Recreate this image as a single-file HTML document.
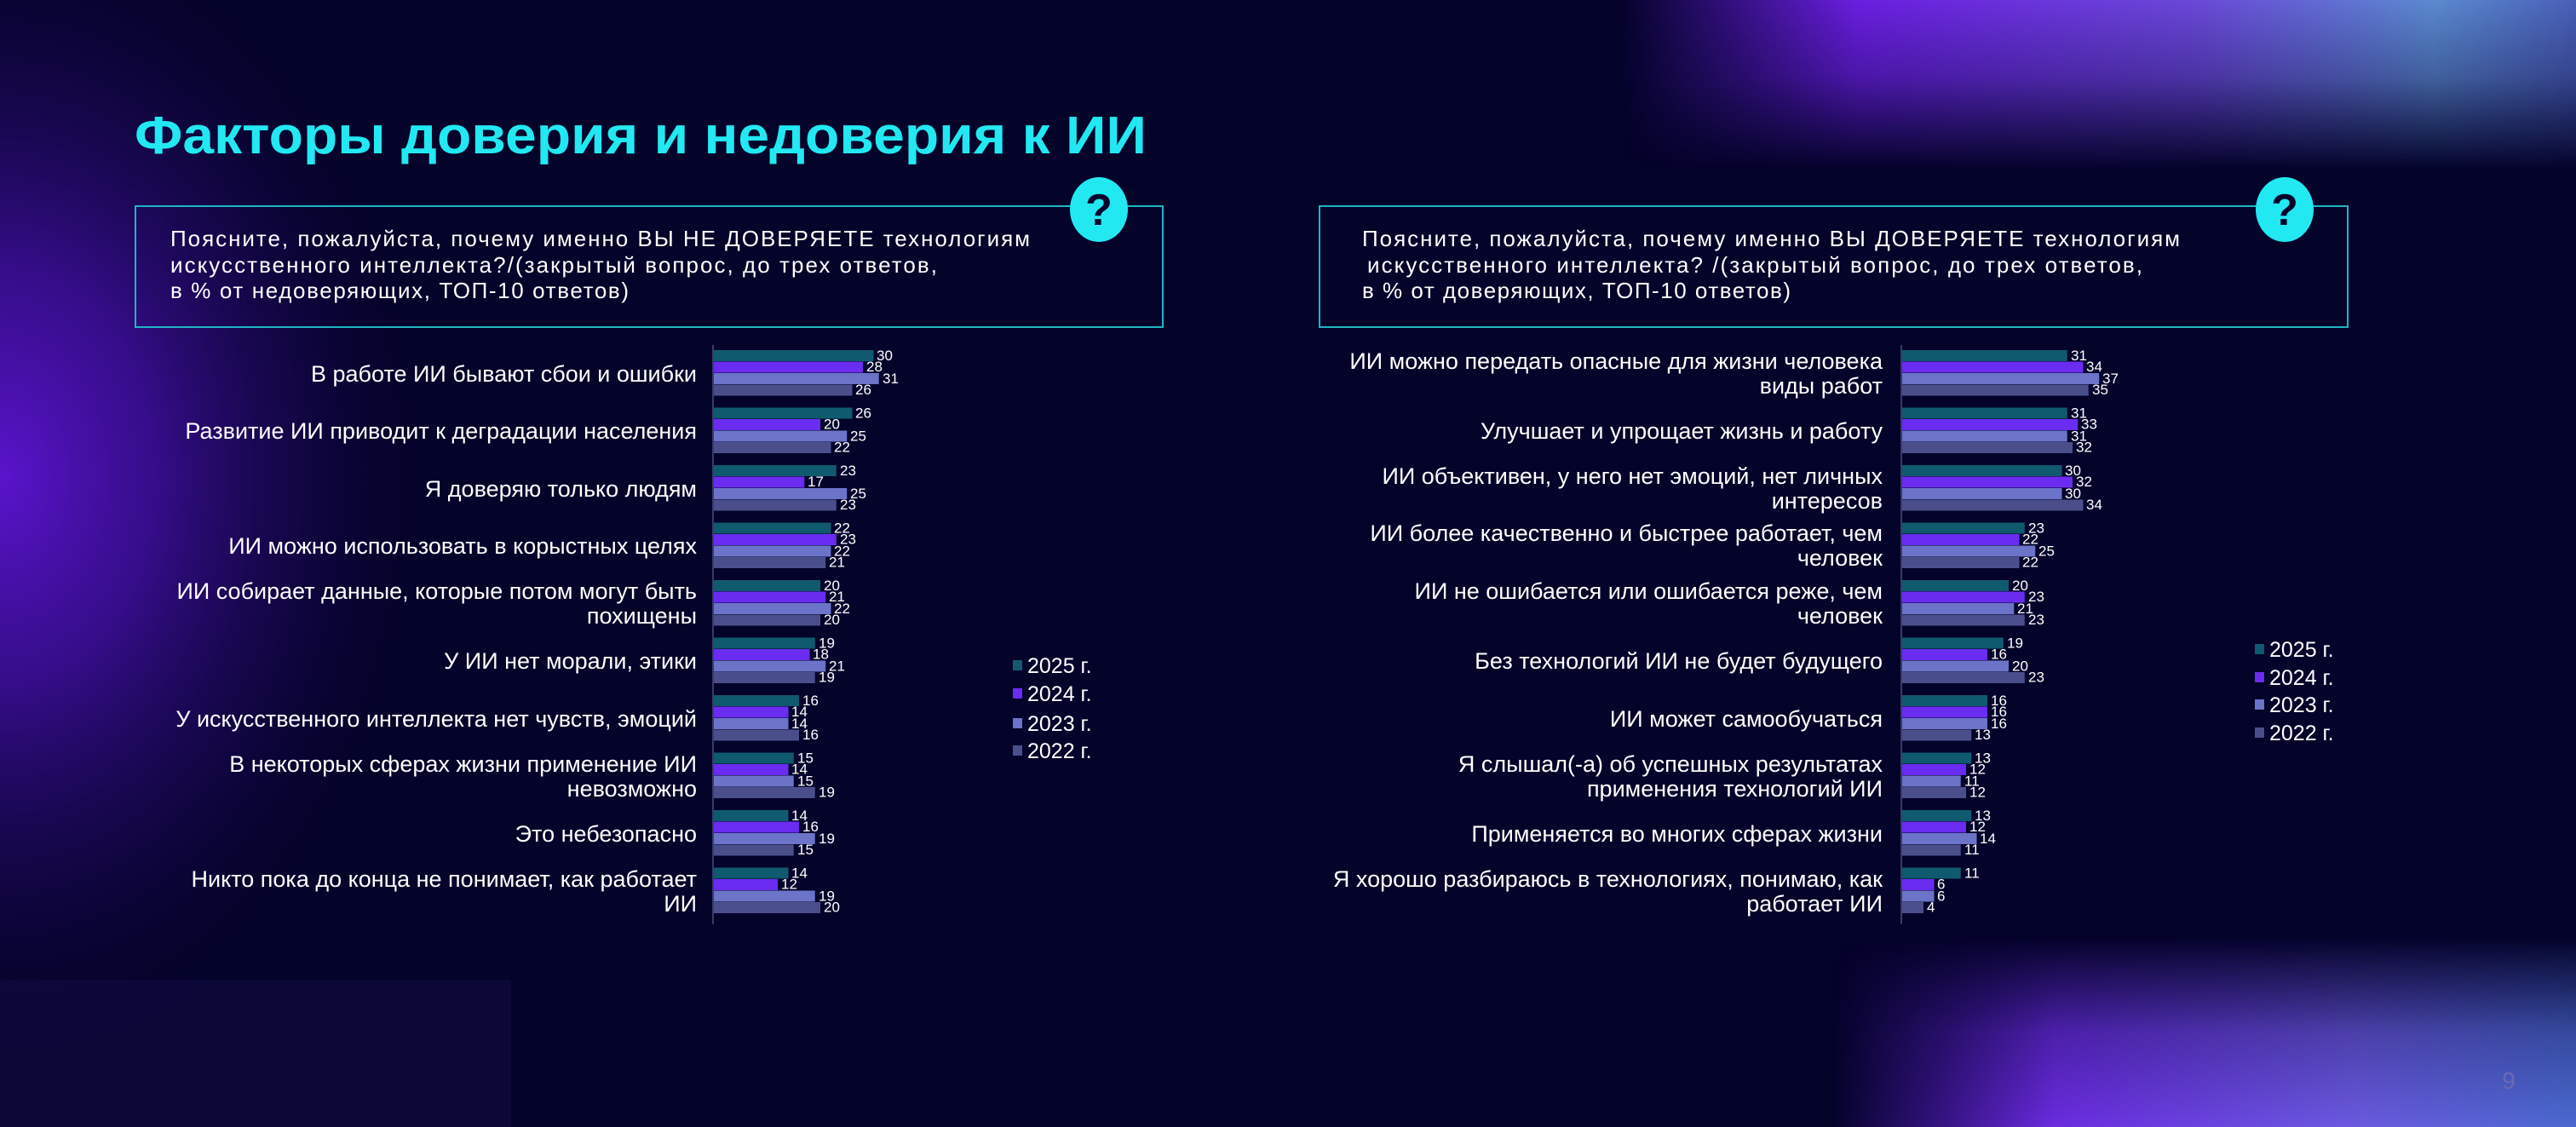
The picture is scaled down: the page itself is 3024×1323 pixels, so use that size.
<!DOCTYPE html>
<html><head><meta charset="utf-8"><style>
html,body{margin:0;padding:0;background:#04032a;}
svg{display:block;font-family:"Liberation Sans","DejaVu Sans",sans-serif;}
</style></head><body>
<svg width="3024" height="1323" viewBox="0 0 3024 1323" xmlns="http://www.w3.org/2000/svg">
<defs>
<radialGradient id="gl" cx="0" cy="560" r="700" gradientUnits="userSpaceOnUse" gradientTransform="translate(0,560) scale(0.75,1) translate(0,-560)">
<stop offset="0" stop-color="#5a14cc" stop-opacity="1"/><stop offset="0.35" stop-color="#4510a8" stop-opacity="0.75"/><stop offset="0.7" stop-color="#2a0a70" stop-opacity="0.3"/><stop offset="1" stop-color="#04032a" stop-opacity="0"/></radialGradient>
<linearGradient id="gt" x1="0" y1="0" x2="0" y2="1"><stop offset="0" stop-color="#fff" stop-opacity="1"/><stop offset="0.45" stop-color="#fff" stop-opacity="0.7"/><stop offset="1" stop-color="#fff" stop-opacity="0"/></linearGradient>
<linearGradient id="gth" x1="0" y1="0" x2="1" y2="0"><stop offset="0" stop-color="#6a1fe0" stop-opacity="0"/><stop offset="0.25" stop-color="#6a1fe0"/><stop offset="0.6" stop-color="#6a48d8"/><stop offset="0.85" stop-color="#5b8ad0"/><stop offset="1" stop-color="#4a60b8"/></linearGradient>
<mask id="mt"><rect x="1900" y="0" width="1124" height="200" fill="url(#gt)"/></mask>
<linearGradient id="gb" x1="0" y1="1" x2="0" y2="0"><stop offset="0" stop-color="#fff" stop-opacity="1"/><stop offset="0.5" stop-color="#fff" stop-opacity="0.7"/><stop offset="1" stop-color="#fff" stop-opacity="0"/></linearGradient>
<linearGradient id="gbh" x1="0" y1="0" x2="1" y2="0"><stop offset="0" stop-color="#6a1fe0" stop-opacity="0"/><stop offset="0.3" stop-color="#6a2ce0"/><stop offset="0.7" stop-color="#6a5ae0"/><stop offset="1" stop-color="#4a6ad0"/></linearGradient>
<mask id="mb"><rect x="2150" y="1100" width="874" height="223" fill="url(#gb)"/></mask>
</defs>
<rect width="3024" height="1323" fill="#04032a"/>
<rect x="0" y="0" width="900" height="1323" fill="url(#gl)"/>
<rect x="1900" y="0" width="1124" height="200" fill="url(#gth)" mask="url(#mt)"/>
<rect x="2150" y="1100" width="874" height="223" fill="url(#gbh)" mask="url(#mb)"/>
<rect x="0" y="1150" width="600" height="173" fill="#1a1050" opacity="0.35"/>

<text x="158" y="180" font-size="62" font-weight="bold" fill="#22e8f2" textLength="1188" lengthAdjust="spacingAndGlyphs">Факторы доверия и недоверия к ИИ</text>

<rect x="159" y="242" width="1206" height="142" fill="none" stroke="#1fb5c4" stroke-width="2"/>
<rect x="1549" y="242" width="1207" height="142" fill="none" stroke="#1fb5c4" stroke-width="2"/>
<ellipse cx="1290" cy="246" rx="34" ry="38" fill="#22e8f2"/>
<text x="1290" y="264" font-size="52" font-weight="bold" fill="#04032a" text-anchor="middle">?</text>
<ellipse cx="2682" cy="246" rx="34" ry="38" fill="#22e8f2"/>
<text x="2682" y="264" font-size="52" font-weight="bold" fill="#04032a" text-anchor="middle">?</text>
<g font-size="26" fill="#fff" lengthAdjust="spacingAndGlyphs">
<text x="200" y="289" textLength="1009">Поясните, пожалуйста, почему именно ВЫ НЕ ДОВЕРЯЕТЕ технологиям</text>
<text x="200" y="320" textLength="900">искусственного интеллекта?/(закрытый вопрос, до трех ответов,</text>
<text x="200" y="350" textLength="538">в % от недоверяющих, ТОП-10 ответов)</text>
<text x="1599" y="289" textLength="960">Поясните, пожалуйста, почему именно ВЫ ДОВЕРЯЕТЕ технологиям</text>
<text x="1605" y="320" textLength="910">искусственного интеллекта? /(закрытый вопрос, до трех ответов,</text>
<text x="1599" y="350" textLength="503">в % от доверяющих, ТОП-10 ответов)</text>
</g>

<line x1="837" y1="405" x2="837" y2="1085" stroke="#3a3a6a" stroke-width="2"/>
<line x1="2232" y1="405" x2="2232" y2="1085" stroke="#3a3a6a" stroke-width="2"/>

<g font-size="27" fill="#fff" text-anchor="end">
<text x="818" y="448">В работе ИИ бывают сбои и ошибки</text>
<text x="818" y="515">Развитие ИИ приводит к деградации населения</text>
<text x="818" y="583">Я доверяю только людям</text>
<text x="818" y="650">ИИ можно использовать в корыстных целях</text>
<text x="818" y="703">ИИ собирает данные, которые потом могут быть</text>
<text x="818" y="732">похищены</text>
<text x="818" y="785">У ИИ нет морали, этики</text>
<text x="818" y="853">У искусственного интеллекта нет чувств, эмоций</text>
<text x="818" y="906">В некоторых сферах жизни применение ИИ</text>
<text x="818" y="935">невозможно</text>
<text x="818" y="988">Это небезопасно</text>
<text x="818" y="1041">Никто пока до конца не понимает, как работает</text>
<text x="818" y="1070">ИИ</text>
</g>
<g font-size="27" fill="#fff" text-anchor="end">
<text x="2210" y="433">ИИ можно передать опасные для жизни человека</text>
<text x="2210" y="462">виды работ</text>
<text x="2210" y="515">Улучшает и упрощает жизнь и работу</text>
<text x="2210" y="568">ИИ объективен, у него нет эмоций, нет личных</text>
<text x="2210" y="597">интересов</text>
<text x="2210" y="635">ИИ более качественно и быстрее работает, чем</text>
<text x="2210" y="664">человек</text>
<text x="2210" y="703">ИИ не ошибается или ошибается реже, чем</text>
<text x="2210" y="732">человек</text>
<text x="2210" y="785">Без технологий ИИ не будет будущего</text>
<text x="2210" y="853">ИИ может самообучаться</text>
<text x="2210" y="906">Я слышал(-а) об успешных результатах</text>
<text x="2210" y="935">применения технологий ИИ</text>
<text x="2210" y="988">Применяется во многих сферах жизни</text>
<text x="2210" y="1041">Я хорошо разбираюсь в технологиях, понимаю, как</text>
<text x="2210" y="1070">работает ИИ</text>
</g>

<g transform="translate(838,411)">
<g><rect y="0" height="13" width="187.5" fill="#0f5a6e"/><rect y="13.5" height="13" width="175" fill="#6a2cf0"/><rect y="27" height="13" width="193.75" fill="#6b74c8"/><rect y="40.5" height="13" width="162.5" fill="#4a4f8c"/>
<g font-size="17" fill="#fff"><text x="191" y="12">30</text><text x="179" y="25">28</text><text x="198" y="39">31</text><text x="166" y="52">26</text></g></g>
<g transform="translate(0,67.5)"><rect y="0" height="13" width="162.5" fill="#0f5a6e"/><rect y="13.5" height="13" width="125" fill="#6a2cf0"/><rect y="27" height="13" width="156.25" fill="#6b74c8"/><rect y="40.5" height="13" width="137.5" fill="#4a4f8c"/>
<g font-size="17" fill="#fff"><text x="166" y="12">26</text><text x="129" y="25">20</text><text x="160" y="39">25</text><text x="141" y="52">22</text></g></g>
<g transform="translate(0,135)"><rect y="0" height="13" width="143.75" fill="#0f5a6e"/><rect y="13.5" height="13" width="106.25" fill="#6a2cf0"/><rect y="27" height="13" width="156.25" fill="#6b74c8"/><rect y="40.5" height="13" width="143.75" fill="#4a4f8c"/>
<g font-size="17" fill="#fff"><text x="148" y="12">23</text><text x="110" y="25">17</text><text x="160" y="39">25</text><text x="148" y="52">23</text></g></g>
<g transform="translate(0,202.5)"><rect y="0" height="13" width="137.5" fill="#0f5a6e"/><rect y="13.5" height="13" width="143.75" fill="#6a2cf0"/><rect y="27" height="13" width="137.5" fill="#6b74c8"/><rect y="40.5" height="13" width="131.25" fill="#4a4f8c"/>
<g font-size="17" fill="#fff"><text x="141" y="12">22</text><text x="148" y="25">23</text><text x="141" y="39">22</text><text x="135" y="52">21</text></g></g>
<g transform="translate(0,270)"><rect y="0" height="13" width="125" fill="#0f5a6e"/><rect y="13.5" height="13" width="131.25" fill="#6a2cf0"/><rect y="27" height="13" width="137.5" fill="#6b74c8"/><rect y="40.5" height="13" width="125" fill="#4a4f8c"/>
<g font-size="17" fill="#fff"><text x="129" y="12">20</text><text x="135" y="25">21</text><text x="141" y="39">22</text><text x="129" y="52">20</text></g></g>
<g transform="translate(0,337.5)"><rect y="0" height="13" width="118.75" fill="#0f5a6e"/><rect y="13.5" height="13" width="112.5" fill="#6a2cf0"/><rect y="27" height="13" width="131.25" fill="#6b74c8"/><rect y="40.5" height="13" width="118.75" fill="#4a4f8c"/>
<g font-size="17" fill="#fff"><text x="123" y="12">19</text><text x="116" y="25">18</text><text x="135" y="39">21</text><text x="123" y="52">19</text></g></g>
<g transform="translate(0,405)"><rect y="0" height="13" width="100" fill="#0f5a6e"/><rect y="13.5" height="13" width="87.5" fill="#6a2cf0"/><rect y="27" height="13" width="87.5" fill="#6b74c8"/><rect y="40.5" height="13" width="100" fill="#4a4f8c"/>
<g font-size="17" fill="#fff"><text x="104" y="12">16</text><text x="91" y="25">14</text><text x="91" y="39">14</text><text x="104" y="52">16</text></g></g>
<g transform="translate(0,472.5)"><rect y="0" height="13" width="93.75" fill="#0f5a6e"/><rect y="13.5" height="13" width="87.5" fill="#6a2cf0"/><rect y="27" height="13" width="93.75" fill="#6b74c8"/><rect y="40.5" height="13" width="118.75" fill="#4a4f8c"/>
<g font-size="17" fill="#fff"><text x="98" y="12">15</text><text x="91" y="25">14</text><text x="98" y="39">15</text><text x="123" y="52">19</text></g></g>
<g transform="translate(0,540)"><rect y="0" height="13" width="87.5" fill="#0f5a6e"/><rect y="13.5" height="13" width="100" fill="#6a2cf0"/><rect y="27" height="13" width="118.75" fill="#6b74c8"/><rect y="40.5" height="13" width="93.75" fill="#4a4f8c"/>
<g font-size="17" fill="#fff"><text x="91" y="12">14</text><text x="104" y="25">16</text><text x="123" y="39">19</text><text x="98" y="52">15</text></g></g>
<g transform="translate(0,607.5)"><rect y="0" height="13" width="87.5" fill="#0f5a6e"/><rect y="13.5" height="13" width="75" fill="#6a2cf0"/><rect y="27" height="13" width="118.75" fill="#6b74c8"/><rect y="40.5" height="13" width="125" fill="#4a4f8c"/>
<g font-size="17" fill="#fff"><text x="91" y="12">14</text><text x="79" y="25">12</text><text x="123" y="39">19</text><text x="129" y="52">20</text></g></g>
</g>

<g transform="translate(2233,411)">
<g><rect y="0" height="13" width="193.75" fill="#0f5a6e"/><rect y="13.5" height="13" width="212.5" fill="#6a2cf0"/><rect y="27" height="13" width="231.25" fill="#6b74c8"/><rect y="40.5" height="13" width="218.75" fill="#4a4f8c"/>
<g font-size="17" fill="#fff"><text x="198" y="12">31</text><text x="216" y="25">34</text><text x="235" y="39">37</text><text x="223" y="52">35</text></g></g>
<g transform="translate(0,67.5)"><rect y="0" height="13" width="193.75" fill="#0f5a6e"/><rect y="13.5" height="13" width="206.25" fill="#6a2cf0"/><rect y="27" height="13" width="193.75" fill="#6b74c8"/><rect y="40.5" height="13" width="200" fill="#4a4f8c"/>
<g font-size="17" fill="#fff"><text x="198" y="12">31</text><text x="210" y="25">33</text><text x="198" y="39">31</text><text x="204" y="52">32</text></g></g>
<g transform="translate(0,135)"><rect y="0" height="13" width="187.5" fill="#0f5a6e"/><rect y="13.5" height="13" width="200" fill="#6a2cf0"/><rect y="27" height="13" width="187.5" fill="#6b74c8"/><rect y="40.5" height="13" width="212.5" fill="#4a4f8c"/>
<g font-size="17" fill="#fff"><text x="191" y="12">30</text><text x="204" y="25">32</text><text x="191" y="39">30</text><text x="216" y="52">34</text></g></g>
<g transform="translate(0,202.5)"><rect y="0" height="13" width="143.75" fill="#0f5a6e"/><rect y="13.5" height="13" width="137.5" fill="#6a2cf0"/><rect y="27" height="13" width="156.25" fill="#6b74c8"/><rect y="40.5" height="13" width="137.5" fill="#4a4f8c"/>
<g font-size="17" fill="#fff"><text x="148" y="12">23</text><text x="141" y="25">22</text><text x="160" y="39">25</text><text x="141" y="52">22</text></g></g>
<g transform="translate(0,270)"><rect y="0" height="13" width="125" fill="#0f5a6e"/><rect y="13.5" height="13" width="143.75" fill="#6a2cf0"/><rect y="27" height="13" width="131.25" fill="#6b74c8"/><rect y="40.5" height="13" width="143.75" fill="#4a4f8c"/>
<g font-size="17" fill="#fff"><text x="129" y="12">20</text><text x="148" y="25">23</text><text x="135" y="39">21</text><text x="148" y="52">23</text></g></g>
<g transform="translate(0,337.5)"><rect y="0" height="13" width="118.75" fill="#0f5a6e"/><rect y="13.5" height="13" width="100" fill="#6a2cf0"/><rect y="27" height="13" width="125" fill="#6b74c8"/><rect y="40.5" height="13" width="143.75" fill="#4a4f8c"/>
<g font-size="17" fill="#fff"><text x="123" y="12">19</text><text x="104" y="25">16</text><text x="129" y="39">20</text><text x="148" y="52">23</text></g></g>
<g transform="translate(0,405)"><rect y="0" height="13" width="100" fill="#0f5a6e"/><rect y="13.5" height="13" width="100" fill="#6a2cf0"/><rect y="27" height="13" width="100" fill="#6b74c8"/><rect y="40.5" height="13" width="81.25" fill="#4a4f8c"/>
<g font-size="17" fill="#fff"><text x="104" y="12">16</text><text x="104" y="25">16</text><text x="104" y="39">16</text><text x="85" y="52">13</text></g></g>
<g transform="translate(0,472.5)"><rect y="0" height="13" width="81.25" fill="#0f5a6e"/><rect y="13.5" height="13" width="75" fill="#6a2cf0"/><rect y="27" height="13" width="68.75" fill="#6b74c8"/><rect y="40.5" height="13" width="75" fill="#4a4f8c"/>
<g font-size="17" fill="#fff"><text x="85" y="12">13</text><text x="79" y="25">12</text><text x="73" y="39">11</text><text x="79" y="52">12</text></g></g>
<g transform="translate(0,540)"><rect y="0" height="13" width="81.25" fill="#0f5a6e"/><rect y="13.5" height="13" width="75" fill="#6a2cf0"/><rect y="27" height="13" width="87.5" fill="#6b74c8"/><rect y="40.5" height="13" width="68.75" fill="#4a4f8c"/>
<g font-size="17" fill="#fff"><text x="85" y="12">13</text><text x="79" y="25">12</text><text x="91" y="39">14</text><text x="73" y="52">11</text></g></g>
<g transform="translate(0,607.5)"><rect y="0" height="13" width="68.75" fill="#0f5a6e"/><rect y="13.5" height="13" width="37.5" fill="#6a2cf0"/><rect y="27" height="13" width="37.5" fill="#6b74c8"/><rect y="40.5" height="13" width="25" fill="#4a4f8c"/>
<g font-size="17" fill="#fff"><text x="73" y="12">11</text><text x="41" y="25">6</text><text x="41" y="39">6</text><text x="29" y="52">4</text></g></g>
</g>

<g font-size="25" fill="#fff">
<rect x="1189" y="775" width="11" height="12" fill="#0f5a6e"/><text x="1206" y="790">2025 г.</text>
<rect x="1189" y="808" width="11" height="12" fill="#6a2cf0"/><text x="1206" y="823">2024 г.</text>
<rect x="1189" y="843" width="11" height="12" fill="#6b74c8"/><text x="1206" y="858">2023 г.</text>
<rect x="1189" y="875" width="11" height="12" fill="#4a4f8c"/><text x="1206" y="890">2022 г.</text>
<rect x="2647" y="756" width="11" height="12" fill="#0f5a6e"/><text x="2664" y="771">2025 г.</text>
<rect x="2647" y="789" width="11" height="12" fill="#6a2cf0"/><text x="2664" y="804">2024 г.</text>
<rect x="2647" y="821" width="11" height="12" fill="#6b74c8"/><text x="2664" y="836">2023 г.</text>
<rect x="2647" y="854" width="11" height="12" fill="#4a4f8c"/><text x="2664" y="869">2022 г.</text>
</g>
<text x="2945" y="1278" font-size="28" fill="#6a6ab0" text-anchor="middle">9</text>
</svg>
</body></html>
